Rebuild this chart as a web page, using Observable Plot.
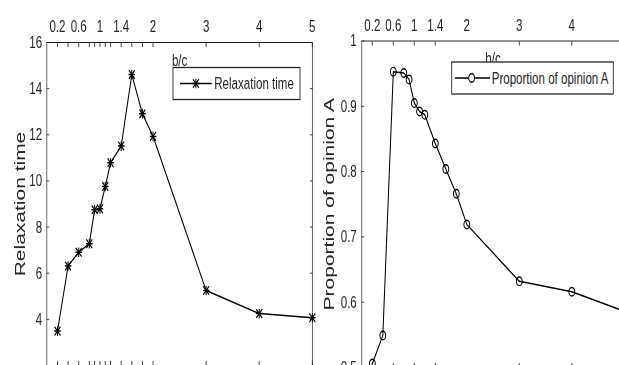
<!DOCTYPE html>
<html><head><meta charset="utf-8">
<script src="https://cdn.jsdelivr.net/npm/d3@7"></script>
<script src="https://cdn.jsdelivr.net/npm/@observablehq/plot@0.6"></script>
<style>
html,body{margin:0;padding:0;background:#fff;overflow:hidden;width:619px;height:365px;}
#wrap{position:absolute;left:0;top:0;width:940px;height:390px;transform:scaleX(0.68);transform-origin:0 0;}
#wrap svg{position:absolute;top:0;background:transparent !important;max-width:none !important;overflow:visible;}
</style></head><body><div id="wrap"></div>
<script>
// b/c values (shared x)
const bc = [0.2, 0.4, 0.6, 0.8, 0.9, 1.0, 1.1, 1.2, 1.4, 1.6, 1.8, 2, 3, 4, 5];
// Left panel: relaxation time
const relaxation = [3.49, 6.31, 6.91, 7.28, 8.75, 8.79, 9.76, 10.79, 11.51, 14.61, 12.91, 11.93, 5.25, 4.25, 4.07];
// Right panel: proportion of opinion A
const proportion = [0.506, 0.549, 0.953, 0.951, 0.941, 0.905, 0.892, 0.887, 0.843, 0.804, 0.766, 0.719, 0.632, 0.616, 0.586];
// tick labels
const leftXLabels = [0.2, 0.6, 1, 1.4, 2, 3, 4, 5];
const rightXLabels = [0.2, 0.6, 1, 1.4, 2, 3, 4];
const rightXTicks = [0.2, 0.6, 1, 1.4, 3, 4, 5];
const relaxTicks = [4, 6, 8, 10, 12, 14, 16];
const propTicks = [0.5, 0.6, 0.7, 0.8, 0.9, 1];

const rows = bc.map((b, i) => ({bc: b, relaxation: relaxation[i], proportion: proportion[i]}));
const ink = "#262626";
const font = "'Liberation Sans', Arial, Helvetica, sans-serif";
const noText = () => "";

const left = Plot.plot({
  width: 480, height: 385,
  marginLeft: 68.4, marginRight: 21.2, marginTop: 42, marginBottom: 20,
  style: {fontFamily: font, fontSize: "17px", color: ink, background: "transparent"},
  x: {domain: [0, 5], label: null},
  y: {domain: [2, 16], label: null},
  marks: [
    Plot.frame({stroke: ink}),
    Plot.axisX(bc, {anchor: "top", tickSize: -4, tickFormat: noText, label: null}),
    Plot.axisX(bc, {anchor: "bottom", tickSize: -4, tickFormat: noText, label: null}),
    Plot.axisX(leftXLabels, {anchor: "top", tickSize: 0, tickPadding: 11, tickFormat: d => String(d), label: null}),
    Plot.axisY(relaxTicks, {anchor: "left", tickSize: -4, tickFormat: noText, label: null}),
    Plot.axisY(relaxTicks, {anchor: "right", tickSize: -4, tickFormat: noText, label: null}),
    Plot.axisY(relaxTicks, {anchor: "left", tickSize: 0, tickPadding: 7, tickFormat: d => String(d), label: null}),
    Plot.text(["b/c"], {text: d => d, frameAnchor: "top", dy: 23, lineAnchor: "bottom", fontSize: 17}),
    Plot.text(["Relaxation time"], {text: d => d, frameAnchor: "left", textAnchor: "middle", dx: -39, rotate: -90, fontSize: 21}),
    Plot.line(rows, {x: "bc", y: "relaxation", stroke: "#000", strokeWidth: 1.5}),
    Plot.dot(rows, {x: "bc", y: "relaxation", symbol: "plus", r: 3.2, stroke: "#000", strokeWidth: 1.5}),
    Plot.dot(rows, {x: "bc", y: "relaxation", symbol: "times", r: 4, stroke: "#000", strokeWidth: 1.5})
  ]
});

const right = Plot.plot({
  width: 490, height: 390,
  marginLeft: 81.6, marginRight: 22.4, marginTop: 40.5, marginBottom: 23,
  style: {fontFamily: font, fontSize: "17px", color: ink, background: "transparent"},
  x: {domain: [0, 5], label: null},
  y: {domain: [0.5, 1], label: null},
  marks: [
    Plot.frame({stroke: ink}),
    Plot.axisX(rightXTicks, {anchor: "top", tickSize: -4, tickFormat: noText, label: null}),
    Plot.axisX(rightXTicks, {anchor: "bottom", tickSize: -4, tickFormat: noText, label: null}),
    Plot.axisX(rightXLabels, {anchor: "top", tickSize: 0, tickPadding: 10, tickFormat: d => String(d), label: null}),
    Plot.axisY(propTicks, {anchor: "left", tickSize: -4, tickFormat: noText, label: null}),
    Plot.axisY(propTicks, {anchor: "right", tickSize: -4, tickFormat: noText, label: null}),
    Plot.axisY(propTicks, {anchor: "left", tickSize: 0, tickPadding: 7.4, tickFormat: d => d === 1 ? "1" : d.toFixed(1), label: null}),
    Plot.text(["b/c"], {text: d => d, frameAnchor: "top", dy: 22.5, lineAnchor: "bottom", fontSize: 17}),
    Plot.text(["Proportion of opinion A"], {text: d => d, frameAnchor: "left", textAnchor: "middle", dx: -47.8, rotate: -90, fontSize: 21}),
    Plot.line(rows, {x: "bc", y: "proportion", stroke: "#000", strokeWidth: 1.5}),
    Plot.dot(rows, {x: "bc", y: "proportion", symbol: "circle", r: 4.3, stroke: "#000", fill: "none", strokeWidth: 1.4})
  ]
});

left.style.left = "0px";
right.style.left = "450px";
const wrap = document.getElementById("wrap");
wrap.appendChild(left);
wrap.appendChild(right);

function legend(svg, box, lineX, markerX, textX, label, marker) {
  const g = d3.select(svg).append("g");
  g.append("rect").attr("x", box[0]).attr("y", box[1]).attr("width", box[2]).attr("height", box[3])
    .attr("fill", "#fff").attr("stroke", ink).attr("stroke-width", 1.3);
  const cy = box[1] + box[3] / 2;
  g.append("line").attr("x1", lineX[0]).attr("x2", lineX[1]).attr("y1", cy).attr("y2", cy)
    .attr("stroke", "#000").attr("stroke-width", 1.5);
  if (marker === "star") {
    g.append("path").attr("d", d3.symbol(d3.symbolPlus, Math.PI * 3.2 * 3.2)())
      .attr("transform", `translate(${markerX},${cy})`).attr("stroke", "#000").attr("stroke-width", 1.5).attr("fill", "none");
    g.append("path").attr("d", d3.symbol(d3.symbolTimes, Math.PI * 4 * 4)())
      .attr("transform", `translate(${markerX},${cy})`).attr("stroke", "#000").attr("stroke-width", 1.5).attr("fill", "none");
  } else {
    g.append("circle").attr("cx", markerX).attr("cy", cy).attr("r", 4.3)
      .attr("stroke", "#000").attr("fill", "#fff").attr("stroke-width", 1.4);
  }
  g.append("text").attr("x", textX).attr("y", cy).attr("dy", "0.35em").attr("text-anchor", "start")
    .attr("font-size", 17).attr("fill", ink).text(label);
}
legend(left, [254.4, 67.5, 186.8, 32], [264.7, 311.3], 288, 315.1, "Relaxation time", "star");
legend(right, [214.3, 62, 237.6, 32], [219.1, 270.6], 243.6, 273.1, "Proportion of opinion A", "circle");
</script>
</body></html>
